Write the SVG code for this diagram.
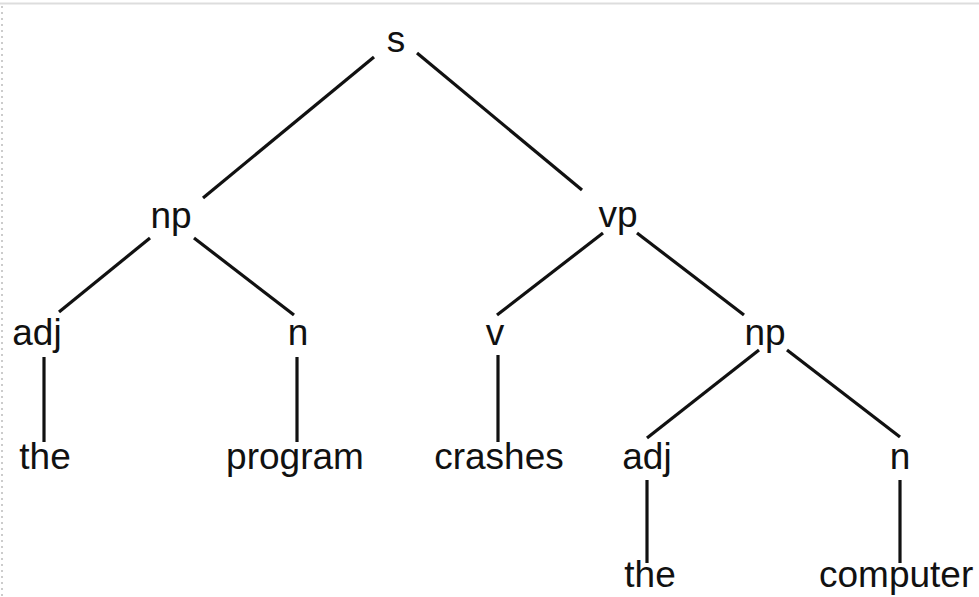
<svg xmlns="http://www.w3.org/2000/svg" width="979" height="597" viewBox="0 0 979 597">
<style>
.t{font-family:"Liberation Sans",Arial,sans-serif;font-size:37px;fill:#111;text-anchor:middle}
.e{stroke:#111;stroke-width:3.2;stroke-linecap:butt;fill:none}
</style>
<rect width="979" height="597" fill="#fff"/>
<line x1="0" y1="3.5" x2="979" y2="3.5" stroke="#ddd" stroke-width="2"/>
<line x1="2" y1="6" x2="2" y2="597" stroke="#ccc" stroke-width="2" stroke-dasharray="2,4"/>
<g id="edges">
<line class="e" x1="374" y1="57" x2="203" y2="198"/>
<line class="e" x1="417" y1="53" x2="582" y2="190"/>
<line class="e" x1="150" y1="238" x2="59" y2="312"/>
<line class="e" x1="194" y1="238" x2="294" y2="315"/>
<line class="e" x1="603" y1="233" x2="497" y2="315"/>
<line class="e" x1="637" y1="233" x2="744" y2="315"/>
<line class="e" x1="44" y1="357" x2="44" y2="442"/>
<line class="e" x1="297" y1="357" x2="297" y2="442"/>
<line class="e" x1="498" y1="355" x2="498" y2="442"/>
<line class="e" x1="759" y1="350" x2="647" y2="438"/>
<line class="e" x1="787" y1="350" x2="900" y2="437"/>
<line class="e" x1="647" y1="480" x2="647" y2="563"/>
<line class="e" x1="900" y1="480" x2="900" y2="563"/>
</g>
<g id="s"><text class="t" x="396" y="52">s</text></g>
<g id="np1"><text class="t" x="171" y="228">np</text></g>
<g id="vp"><text class="t" x="618" y="227">vp</text></g>
<g id="adj1"><text class="t" x="37" y="345">adj</text></g>
<g id="n1"><text class="t" x="298" y="345">n</text></g>
<g id="v"><text class="t" x="495" y="345">v</text></g>
<g id="np2"><text class="t" x="765" y="345">np</text></g>
<g id="the1"><text class="t" x="45" y="469">the</text></g>
<g id="program"><text class="t" x="295" y="469">program</text></g>
<g id="crashes"><text class="t" x="499" y="469">crashes</text></g>
<g id="adj2"><text class="t" x="647" y="469">adj</text></g>
<g id="n2"><text class="t" x="900" y="469">n</text></g>
<g id="the2"><text class="t" x="650" y="587">the</text></g>
<g id="computer"><text class="t" x="819" y="587" style="text-anchor:start">computer</text></g>
</svg>
